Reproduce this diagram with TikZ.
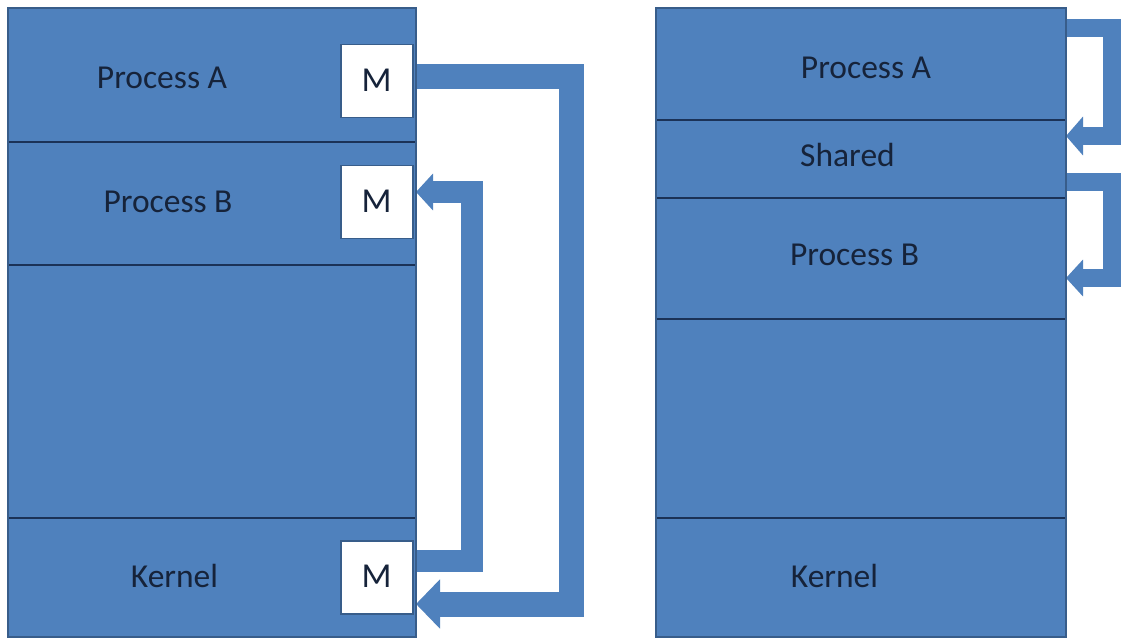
\documentclass[tikz,border=0pt]{standalone}
\usepackage{fontspec}
\setmainfont{Carlito}
\usetikzlibrary{arrows.meta,calc}
\definecolor{memblue}{HTML}{4F81BD}
\definecolor{memedge}{HTML}{385D8A}
\definecolor{memline}{HTML}{1B3257}
\definecolor{memtext}{HTML}{16233A}
\pgfdeclarelayer{behind}
\pgfsetlayers{behind,main}
\tikzset{
  section/.style={rectangle, fill=memblue, inner sep=0pt, outer sep=0pt},
  mbox/.style={rectangle, fill=white, draw=memedge, line width=1.2pt, inner sep=0pt, outer sep=0pt,
    minimum width=72pt, minimum height=73pt},
  label/.style={anchor=base, inner sep=0pt, font=\fontsize{33.5}{33.5}\selectfont, text=memtext},
  mlabel/.style={label, font=\fontsize{35}{35}\selectfont},
  divider/.style={draw=memline, line width=2pt},
  frame/.style={draw=memedge, line width=2pt},
  flow/.style={draw=memblue, line join=miter, line cap=butt},
}
\begin{document}
\begin{tikzpicture}[x=1pt, y=-1pt]
\useasboundingbox (0,0) rectangle (1121,639);
\begin{pgfonlayer}{behind}
\fill[white] (0,0) rectangle (1121,639);
\end{pgfonlayer}

% ---------- left memory map ----------
\node[section, minimum width=408pt, minimum height=134pt] (lA)   at (212,75)    {};
\node[section, minimum width=408pt, minimum height=123pt] (lB)   at (212,203.5) {};
\node[section, minimum width=408pt, minimum height=253pt] (lMid) at (212,391.5) {};
\node[section, minimum width=408pt, minimum height=119pt] (lK)   at (212,577.5) {};

% ---------- right memory map ----------
\node[section, minimum width=410pt, minimum height=112pt] (rA)   at (861,64)    {};
\node[section, minimum width=410pt, minimum height=78pt]  (rS)   at (861,159)   {};
\node[section, minimum width=410pt, minimum height=121pt] (rB)   at (861,258.5) {};
\node[section, minimum width=410pt, minimum height=199pt] (rMid) at (861,418.5) {};
\node[section, minimum width=410pt, minimum height=119pt] (rK)   at (861,577.5) {};

% ---------- dividers and frames ----------
\draw[divider] (lA.south west) -- (lA.south east);
\draw[divider] (lB.south west) -- (lB.south east);
\draw[divider] (lMid.south west) -- (lMid.south east);
\draw[frame] (lA.north west) rectangle (lK.south east);
\draw[divider] (rA.south west) -- (rA.south east);
\draw[divider] (rS.south west) -- (rS.south east);
\draw[divider] (rB.south west) -- (rB.south east);
\draw[divider] (rMid.south west) -- (rMid.south east);
\draw[frame] (rA.north west) rectangle (rK.south east);

% ---------- message buffers ----------
\node[mbox] (mA) at (377,81)    {};
\node[mbox] (mB) at (377,202)   {};
\node[mbox] (mK) at (377,577.5) {};

% ---------- arrows, kept under the maps ----------
\begin{pgfonlayer}{behind}
% message passing: A -> kernel, kernel -> B
\coordinate (a1) at (571.5,77);
\coordinate (a2) at (571.5,604);
\draw[flow, line width=25pt, -{Triangle[width=48pt,length=24pt]}]
  (mA.east |- a1) -- (a1) -- (a2) -- (lK.east |- a2);
\coordinate (b1) at (471.5,561);
\coordinate (b2) at (471.5,192);
\draw[flow, line width=22pt, -{Triangle[width=36pt,length=17pt]}]
  (mK.east |- b1) -- (b1) -- (b2) -- (lB.east |- b2);
% shared memory: A -> shared, shared -> B
\coordinate (c1) at (1112,28);
\coordinate (c2) at (1112,136);
\draw[flow, line width=17.5pt, -{Triangle[width=38pt,length=17pt]}]
  (rA.east |- c1) -- (c1) -- (c2) -- (rS.east |- c2);
\coordinate (d1) at (1112,182);
\coordinate (d2) at (1112,278);
\draw[flow, line width=17.5pt, -{Triangle[width=36pt,length=17pt]}]
  (rS.east |- d1) -- (d1) -- (d2) -- (rB.east |- d2);
\end{pgfonlayer}

% ---------- labels ----------
\node[label] (tA)  at (162,89)    {Process A};
\node[label] (tB)  at (168,212)   {Process B};
\node[label] (tK)  at (174.5,587) {Kernel};
\node[mlabel] (tmA) at (376.5,92)  {M};
\node[mlabel] (tmB) at (376.5,212) {M};
\node[mlabel] (tmK) at (376.5,587) {M};
\node[label] (uA)  at (866,79)    {Process A};
\node[label] (uS)  at (847.5,167) {Shared};
\node[label] (uB)  at (854.5,265) {Process B};
\node[label] (uK)  at (834.5,587) {Kernel};
\end{tikzpicture}
\end{document}
